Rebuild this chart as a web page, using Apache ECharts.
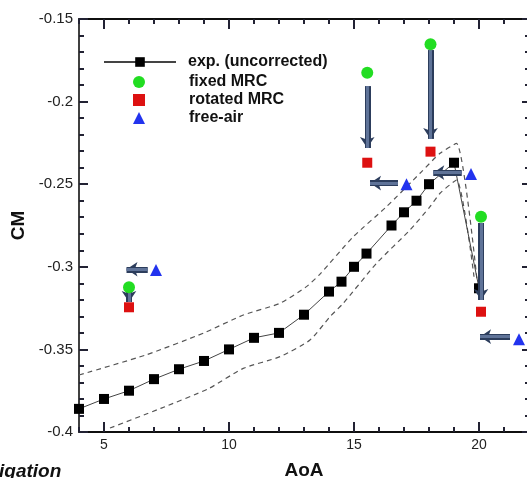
<!DOCTYPE html>
<html>
<head>
<meta charset="utf-8">
<script src="https://cdn.jsdelivr.net/npm/echarts@6/dist/echarts.min.js"></script>
<style>
html,body{margin:0;padding:0;background:#fff;}
#chart{width:527px;height:478px;}
</style>
</head>
<body>
<div id="chart"></div>
<script>
// ---- data ----
const expX = [4, 5, 6, 7, 8, 9, 10, 11, 12, 13, 14, 14.5, 15, 15.5, 16.5, 17, 17.5, 18, 19, 20];
const expY = [-0.386, -0.380, -0.375, -0.368, -0.362, -0.357, -0.350, -0.343, -0.340, -0.329, -0.315, -0.309, -0.300, -0.292, -0.275, -0.267, -0.260, -0.250, -0.237, -0.313];

const upperX = [4, 6.67, 9.0, 10.57, 12.04, 13.1, 13.64, 14.97, 16.3, 17.64, 18.44, 19.1, 19.92];
const upperY = [-0.3655, -0.3534, -0.3400, -0.3292, -0.3221, -0.3120, -0.3044, -0.2818, -0.2636, -0.2434, -0.2313, -0.2253, -0.308];
const lowerX = [5.24, 7.27, 9.2, 10.57, 12.04, 13.24, 14.04, 14.57, 15.9, 17.24, 18.04, 18.44, 19.1, 19.8];
const lowerY = [-0.3976, -0.3857, -0.3736, -0.3615, -0.3544, -0.3443, -0.3302, -0.3221, -0.2979, -0.2777, -0.2636, -0.2555, -0.2475, -0.306];

const fixedX = [6, 15.53, 18.06, 20.08];
const fixedY = [-0.3124, -0.1825, -0.1653, -0.2697];
const rotatedX = [6, 15.53, 18.06, 20.08];
const rotatedY = [-0.3245, -0.237, -0.2303, -0.3272];
const freeX = [7.08, 17.1, 19.68, 21.6];
const freeY = [-0.302, -0.250, -0.2438, -0.3439];

// arrows: start and end in data units
const arrowStartX = [6, 6.75, 15.53, 18.06, 16.76, 19.31, 20.08, 21.24];
const arrowStartY = [-0.3146, -0.3015, -0.1906, -0.1688, -0.2493, -0.2430, -0.2735, -0.3423];
const arrowEndX = [6, 5.9, 15.53, 18.06, 15.64, 18.17, 20.08, 20.04];
const arrowEndY = [-0.3213, -0.3015, -0.2281, -0.2226, -0.2493, -0.2430, -0.3201, -0.3423];

const xMajorTicks = [5, 10, 15, 20];
const yTickLabels = ['-0.4', '-0.35', '-0.3', '-0.25', '-0.2', '-0.15'];
const yTickValues = [-0.4, -0.35, -0.3, -0.25, -0.2, -0.15];

const seriesNames = ['exp. (uncorrected)', 'fixed MRC', 'rotated MRC', 'free-air'];

// ---- build ----
const zip = (xs, ys) => xs.map((x, i) => [x, ys[i]]);
const arrowData = arrowStartX.map((x, i) => ({coords: [[x, arrowStartY[i]], [arrowEndX[i], arrowEndY[i]]]}));

const FONT = '"Liberation Sans", Arial, Helvetica, sans-serif';
const TICK_COLOR = '#222233';
function mkLine() { return {show: true, onZero: false, lineStyle: {color: '#000', width: 1.5}}; }
function mkTick(len, custom) {
  const t = {show: true, inside: true, length: len, lineStyle: {color: TICK_COLOR, width: 2}};
  if (custom) t.customValues = custom;
  return t;
}
function mkMinor(len) {
  return {show: true, splitNumber: 5, length: len, lineStyle: {color: TICK_COLOR, width: 2}};
}
function legendText(pad) {
  return {fontFamily: FONT, fontSize: 16, fontWeight: 'bold', color: '#111', padding: [0, 0, 0, pad]};
}

const chart = echarts.init(document.getElementById('chart'), null, {renderer: 'canvas'});

chart.setOption({
  animation: false,
  grid: {left: 79, top: 19, width: 450, height: 413, outerBoundsMode: 'none'},
  legend: [
    {
      orient: 'vertical', left: 98, top: 49, itemWidth: 72, itemHeight: 12, itemGap: 2,
      data: [seriesNames[0]],
      textStyle: legendText(7)
    },
    {
      orient: 'vertical', left: 128, top: 69, itemWidth: 12, itemHeight: 12, itemGap: 2,
      data: seriesNames.slice(1),
      textStyle: legendText(39)
    }
  ],
  xAxis: [
    {type: 'value', min: 4, max: 22, interval: 1, position: 'bottom', splitLine: {show: false},
      axisLine: mkLine(), axisTick: mkTick(5), axisLabel: {show: false}},
    {type: 'value', min: 4, max: 22, position: 'bottom', splitLine: {show: false},
      axisLine: mkLine(), axisTick: mkTick(10, xMajorTicks),
      axisLabel: {show: true, customValues: xMajorTicks, margin: 6, fontFamily: FONT, fontSize: 14, color: '#222'},
      name: 'AoA', nameLocation: 'middle', nameGap: 29,
      nameTextStyle: {fontFamily: FONT, fontSize: 19, fontWeight: 'bold', color: '#111'}},
    {type: 'value', min: 4, max: 22, interval: 1, position: 'top', splitLine: {show: false},
      axisLine: mkLine(), axisTick: mkTick(5), axisLabel: {show: false}},
    {type: 'value', min: 4, max: 22, position: 'top', splitLine: {show: false},
      axisLine: mkLine(), axisTick: mkTick(10, xMajorTicks), axisLabel: {show: false}}
  ],
  yAxis: [
    {type: 'value', min: -0.4, max: -0.15, interval: 0.05, position: 'left', splitLine: {show: false},
      axisLine: mkLine(), axisTick: mkTick(9), minorTick: mkMinor(5),
      axisLabel: {show: true, margin: 6, fontFamily: FONT, fontSize: 15, color: '#222',
        formatter: function (v) {
          for (let i = 0; i < yTickValues.length; i++) if (Math.abs(v - yTickValues[i]) < 1e-6) return yTickLabels[i];
          return '';
        }},
      name: 'CM', nameLocation: 'middle', nameGap: 43, nameRotate: 90,
      nameTextStyle: {fontFamily: FONT, fontSize: 19, fontWeight: 'bold', color: '#111'}},
    {type: 'value', min: -0.4, max: -0.15, interval: 0.05, position: 'right', splitLine: {show: false},
      axisLine: mkLine(), axisTick: mkTick(7), minorTick: mkMinor(4),
      axisLabel: {show: false}}
  ],
  series: [
    {name: 'upper', type: 'line', data: zip(upperX, upperY), showSymbol: false, symbol: 'none', smooth: 0.2,
      lineStyle: {color: '#555', width: 1.2, type: [5, 4]}, z: 2, silent: true},
    {name: 'lower', type: 'line', data: zip(lowerX, lowerY), showSymbol: false, symbol: 'none', smooth: 0.2,
      lineStyle: {color: '#555', width: 1.2, type: [5, 4]}, z: 2, silent: true},
    {name: seriesNames[0], type: 'line', data: zip(expX, expY), symbol: 'rect', symbolSize: 10,
      itemStyle: {color: '#000'}, lineStyle: {color: '#444', width: 1}, z: 3},
    {name: 'arrows-outline', type: 'lines', coordinateSystem: 'cartesian2d', data: arrowData,
      symbol: ['none', 'arrow'], symbolSize: 11,
      lineStyle: {color: '#2c3d5c', width: 6, opacity: 1, curveness: 0}, z: 4, silent: true},
    {name: 'arrows-fill', type: 'lines', coordinateSystem: 'cartesian2d', data: arrowData,
      symbol: ['none', 'none'],
      lineStyle: {color: '#5f7398', width: 3, opacity: 1, curveness: 0}, z: 5, silent: true},
    {name: seriesNames[1], type: 'scatter', data: zip(fixedX, fixedY), symbol: 'circle', symbolSize: 12,
      itemStyle: {color: '#22dd22', opacity: 1}, z: 6},
    {name: seriesNames[2], type: 'scatter', data: zip(rotatedX, rotatedY), symbol: 'rect', symbolSize: 10,
      itemStyle: {color: '#dd1111', opacity: 1}, z: 6},
    {name: seriesNames[3], type: 'scatter', data: zip(freeX, freeY), symbol: 'triangle', symbolSize: 12,
      itemStyle: {color: '#2233ee', opacity: 1}, z: 6}
  ],
  graphic: [
    {type: 'text', left: -1, top: 462, style: {text: 'igation', font: 'italic bold 19px ' + FONT, fill: '#111'}}
  ]
});
</script>
</body>
</html>
